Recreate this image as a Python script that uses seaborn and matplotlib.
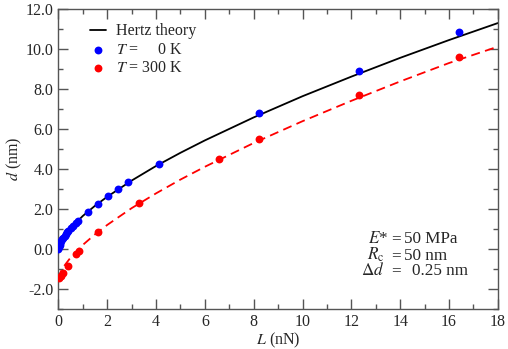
import numpy as np
import pandas as pd
import seaborn as sns
import matplotlib.pyplot as plt
from matplotlib.ticker import MultipleLocator, FormatStrFormatter

# Hertz theory curve (black) and shifted curve (red dashed)
curve_L = [0, 0.02, 0.1, 0.25, 0.5, 1, 1.5, 2, 3, 4, 5, 6, 8, 10, 12, 14, 16, 18]
hertz_d = [0, 0.12, 0.35, 0.65, 1.04, 1.65, 2.16, 2.61, 3.42, 4.15, 4.81, 5.43,
           6.58, 7.64, 8.62, 9.56, 10.45, 11.30]
warm_d = [-1.5, -1.37, -1.13, -0.83, -0.43, 0.20, 0.73, 1.20, 2.04, 2.78, 3.47,
          4.11, 5.30, 6.39, 7.41, 8.38, 9.30, 10.12]

# T = 0 K simulation points
cold_L = [0, 0.02, 0.05, 0.08, 0.12, 0.16, 0.2, 0.25, 0.3, 0.36, 0.41, 0.5, 0.6,
          0.7, 0.82, 1.23, 1.64, 2.05, 2.46, 2.87, 4.1, 8.2, 12.3, 16.4]
cold_d = [0.02, 0.12, 0.22, 0.31, 0.40, 0.48, 0.56, 0.65, 0.74, 0.83, 0.91, 1.04,
          1.17, 1.30, 1.40, 1.87, 2.26, 2.65, 3.0, 3.35, 4.25, 6.8, 8.9, 10.83]

# T = 300 K simulation points
hot_L = [0.02, 0.1, 0.2, 0.38, 0.72, 0.85, 1.64, 3.31, 6.57, 8.22, 12.31, 16.41]
hot_d = [-1.47, -1.35, -1.2, -0.84, -0.27, -0.1, 0.84, 2.28, 4.52, 5.48, 7.68, 9.6]

# parameter box
param_names = [r"$E$*", r"$R_{\rm c}$", r"$\Delta d$"]
param_values = ["50 MPa", "50 nm", "0.25 nm"]

sns.set_style("ticks")
plt.rcParams['font.family'] = ['Liberation Serif', 'DejaVu Serif']
plt.rcParams['mathtext.fontset'] = 'stix'
plt.rcParams['axes.unicode_minus'] = False
fs = 11.5

fig, ax = plt.subplots(figsize=(5.08, 3.49), dpi=100)
plt.subplots_adjust(left=0.115, right=0.980, top=0.974, bottom=0.115)

curves = pd.DataFrame({"L": curve_L, "hertz": hertz_d, "warm": warm_d})
sns.lineplot(data=curves, x="L", y="hertz", color="black", lw=1.3,
             label="Hertz theory", ax=ax)
sns.lineplot(data=curves, x="L", y="warm", color="red", lw=1.3,
             dashes=False, ax=ax, label="_nolegend_")
ax.lines[-1].set_dashes([5, 3])

sns.scatterplot(x=cold_L, y=cold_d, color="blue", s=32, linewidth=0,
                label=r"$T$ =     0 K", ax=ax, zorder=3)
sns.scatterplot(x=hot_L, y=hot_d, color="red", s=32, linewidth=0,
                label=r"$T$ = 300 K", ax=ax, zorder=3)

ax.set_xlim(0, 18)
ax.set_ylim(-3, 12)
ax.xaxis.set_major_locator(MultipleLocator(2))
ax.xaxis.set_minor_locator(MultipleLocator(1))
ax.yaxis.set_major_locator(MultipleLocator(2))
ax.yaxis.set_minor_locator(MultipleLocator(1))
ax.yaxis.set_major_formatter(FormatStrFormatter('%.1f'))
ax.tick_params(which='both', direction='in', top=True, right=True,
               labelsize=fs, color='#555555')
ax.tick_params(which='major', length=7, width=1)
ax.tick_params(which='minor', length=3.5, width=1)
for sp in ax.spines.values():
    sp.set_color('#555555')
    sp.set_linewidth(1)

ax.set_xlabel(r"$L$ (nN)", fontsize=fs, labelpad=1)
ax.set_ylabel(r"$d$ (nm)", fontsize=fs, labelpad=1)

ax.legend(loc='upper left', frameon=False, fontsize=fs, handlelength=1.0,
          handletextpad=0.6, labelspacing=0.15, borderaxespad=0.5,
          bbox_to_anchor=(0.04, 1.0))

afs = 12.3
name_x = [0.750, 0.742, 0.742]
value_x = [0.786, 0.786, 0.805]
rows_y = [0.22, 0.163, 0.113]
for nm, val, nx, vx, ry in zip(param_names, param_values, name_x, value_x, rows_y):
    ax.text(nx, ry, nm, transform=ax.transAxes, fontsize=afs, ha='right')
    ax.text(0.758, ry, "=", transform=ax.transAxes, fontsize=afs)
    ax.text(vx, ry, val, transform=ax.transAxes, fontsize=afs)

plt.savefig("out.png", dpi=100)
